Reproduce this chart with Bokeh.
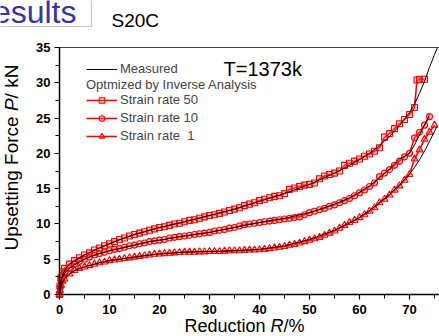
import math
from bokeh.plotting import figure
from bokeh.models import (Label, Legend, LegendItem, LinearAxis, SingleIntervalTicker,
                          Range1d, BoxAnnotation)
from bokeh.embed import file_html
from bokeh.resources import INLINE

# ---------------- data ----------------
x_sr50 = [0, 0.1, 0.3, 0.6, 1, 2, 3, 4, 5, 6, 7, 8, 9, 10, 11, 12, 13, 14, 15, 16, 17, 18,
          19, 20, 21, 22, 23, 24, 25, 26, 27, 28, 29, 30, 31, 32, 33, 34, 35, 36, 37, 38, 39,
          40, 41, 42, 43, 44, 45, 46, 47, 48, 49, 50, 51, 52, 53, 54, 55, 56, 57, 58, 59, 60,
          61, 62, 63, 64, 65, 66, 67, 68, 69, 70, 71, 71.5, 72, 73]
y_sr50 = [0, 1.2, 2.4, 3.2, 3.7, 4.3, 4.8, 5.2, 5.6, 5.9, 6.3, 6.6, 6.9, 7.2, 7.5, 7.8, 8.0,
          8.3, 8.5, 8.7, 8.9, 9.1, 9.3, 9.5, 9.6, 9.8, 10.0, 10.1, 10.3, 10.5, 10.6, 10.8, 11.0,
          11.2, 11.3, 11.5, 11.7, 11.9, 12.1, 12.3, 12.6, 12.8, 13.0, 13.3, 13.5, 13.7, 13.9,
          14.0, 14.3, 14.9, 15.1, 15.3, 15.5, 15.6, 15.8, 16.4, 16.8, 17.0, 17.2, 17.5, 18.3,
          18.6, 18.9, 19.2, 19.6, 19.9, 20.3, 20.8, 22.3, 22.8, 23.5, 24.2, 24.8, 25.5, 26.5,
          30.4, 30.5, 30.5]

x_sr10 = [0, 0.1, 0.3, 0.6, 1, 2, 3, 4, 5, 6, 7, 8, 9, 10, 11, 12, 13, 14, 15, 16, 17, 18,
          19, 20, 21, 22, 23, 24, 25, 26, 27, 28, 29, 30, 31, 32, 33, 34, 35, 36, 37, 38, 39,
          40, 41, 42, 43, 44, 45, 46, 47, 48, 49, 50, 51, 52, 53, 54, 55, 56, 57, 58, 59, 60,
          61, 62, 63, 64, 65, 66, 67, 68, 69, 70, 71, 72, 73, 74]
y_sr10 = [0, 1.0, 2.0, 2.8, 3.2, 3.8, 4.3, 4.7, 5.0, 5.3, 5.6, 5.8, 6.0, 6.2, 6.4, 6.5, 6.7,
          6.9, 7.0, 7.2, 7.3, 7.5, 7.6, 7.7, 7.8, 8.0, 8.1, 8.2, 8.3, 8.4, 8.5, 8.6, 8.7, 8.8,
          9.0, 9.1, 9.2, 9.4, 9.5, 9.7, 9.9, 10.0, 10.1, 10.2, 10.3, 10.4, 10.5, 10.6, 10.7,
          10.8, 10.9, 11.0, 11.3, 11.6, 11.8, 12.0, 12.2, 12.5, 12.7, 13.0, 13.3, 13.6, 14.0,
          14.4, 14.8, 15.3, 15.8, 16.7, 17.2, 17.7, 18.3, 18.9, 19.5, 20.0, 22.2, 23.0, 24.0,
          25.2]

x_sr1 = [0, 0.1, 0.3, 0.6, 1, 2, 3, 4, 5, 6, 7, 8, 9, 10, 11, 12, 13, 14, 15, 16, 17, 18,
         19, 20, 21, 22, 23, 24, 25, 26, 27, 28, 29, 30, 31, 32, 33, 34, 35, 36, 37, 38, 39,
         40, 41, 42, 43, 44, 45, 46, 47, 48, 49, 50, 51, 52, 53, 54, 55, 56, 57, 58, 59, 60,
         61, 62, 63, 64, 65, 66, 67, 68, 69, 70, 71, 72, 73, 74, 75]
y_sr1 = [0, 0.6, 1.3, 1.9, 2.2, 2.9, 3.4, 3.7, 3.9, 4.1, 4.3, 4.5, 4.6, 4.8, 4.9, 5.0, 5.1,
         5.2, 5.3, 5.4, 5.5, 5.6, 5.7, 5.75, 5.8, 5.85, 5.9, 5.95, 6.0, 6.0, 6.0, 6.05, 6.05,
         6.1, 6.1, 6.1, 6.15, 6.2, 6.2, 6.2, 6.25, 6.3, 6.3, 6.35, 6.4, 6.5, 6.6, 6.7, 6.8,
         7.0, 7.1, 7.3, 7.5, 7.7, 7.9, 8.1, 8.4, 8.7, 9.0, 9.4, 9.8, 10.2, 10.5, 10.9, 11.3,
         11.8, 12.3, 13.0, 13.5, 14.1, 14.8, 15.4, 16.2, 17.0, 19.2, 20.5, 22.0, 23.0, 24.0]

x_meas50 = [0, 0.2, 0.5, 1, 1.5, 2, 3, 4, 5, 6, 8, 10, 12, 15, 18, 20, 25, 30, 35, 40, 45,
            50, 55, 58, 60, 62, 64, 66, 68, 70, 71, 72, 73, 74, 75, 75.6]
y_meas50 = [0, 1.5, 2.6, 3.4, 3.9, 4.3, 4.8, 5.2, 5.6, 5.95, 6.6, 7.2, 7.75, 8.5, 9.1, 9.5,
            10.3, 11.2, 12.1, 13.2, 14.3, 15.6, 17.2, 18.3, 19.1, 20.0, 21.1, 22.4, 23.9,
            25.8, 27.0, 28.5, 30.2, 32.2, 34.0, 35.0]

x_meas10 = [0, 0.2, 0.5, 1, 1.5, 2, 3, 4, 5, 6, 8, 10, 12, 15, 18, 20, 25, 30, 35, 40, 45,
            50, 55, 58, 60, 62, 64, 66, 68, 70, 71, 72, 73, 74]
y_meas10 = [0, 1.3, 2.3, 3.0, 3.4, 3.7, 4.2, 4.6, 5.0, 5.3, 5.8, 6.2, 6.5, 7.0, 7.5, 7.7,
            8.3, 8.8, 9.5, 10.2, 10.8, 11.6, 12.8, 13.7, 14.5, 15.4, 16.5, 17.8, 19.2, 20.0,
            21.2, 22.6, 24.0, 25.5]

x_meas1 = [0, 0.2, 0.5, 1, 1.5, 2, 3, 4, 5, 6, 8, 10, 12, 15, 18, 20, 25, 30, 35, 40, 45,
           50, 55, 58, 60, 62, 64, 66, 68, 70, 71, 72, 73, 74, 75, 75.5]
y_meas1 = [0, 0.8, 1.6, 2.2, 2.6, 2.9, 3.4, 3.7, 3.9, 4.1, 4.5, 4.8, 5.0, 5.3, 5.6, 5.75,
           6.0, 6.1, 6.2, 6.4, 6.9, 7.8, 9.1, 10.1, 10.9, 11.9, 13.0, 14.2, 15.5, 17.1, 18.0,
           19.1, 20.3, 21.7, 23.1, 23.9]

series_labels = ["Strain rate 50", "Strain rate 10", "Strain rate  1"]

# ---------------- figure ----------------
FONT = "Liberation Sans"
RED = "#ff0000"
W, H = 439, 336
OFF = 6.5   # baseline correction for Bokeh's text placement

# frame covers the whole canvas; axes are pinned at x=0 / y=0 with fixed_location
p = figure(width=W, height=H, x_range=Range1d(-11.8, 76), y_range=Range1d(-5.95, 41.66),
           output_backend="svg", toolbar_location=None, title_location=None,
           min_border=0)
p.outline_line_color = None
p.xgrid.visible = False
p.ygrid.visible = False

p.xaxis.ticker = SingleIntervalTicker(interval=10, num_minor_ticks=2)
p.yaxis.ticker = SingleIntervalTicker(interval=5, num_minor_ticks=2)
p.xaxis.fixed_location = 0
p.yaxis.fixed_location = 0
p.xaxis.bounds = (0, 76)
p.yaxis.bounds = (0, 35)
for ax in (p.xaxis, p.yaxis):
    ax.axis_line_color = "black"
    ax.axis_line_width = 1.5
    ax.major_tick_line_color = "black"
    ax.minor_tick_line_color = "black"
    ax.major_tick_line_width = 1.2
    ax.minor_tick_line_width = 1
    ax.major_tick_in = 0
    ax.major_tick_out = 5
    ax.minor_tick_in = 0
    ax.minor_tick_out = 4
    ax.major_label_text_font = FONT
    ax.major_label_text_font_style = "bold"
    ax.major_label_text_font_size = "13px"
    ax.major_label_text_color = "black"
p.xaxis.major_label_standoff = 5
p.yaxis.major_label_standoff = 4

top_axis = LinearAxis(fixed_location=35, bounds=(0, 76),
                      axis_line_color="#444444", axis_line_width=1,
                      major_tick_line_color=None, minor_tick_line_color=None,
                      major_label_text_color=None)
p.add_layout(top_axis, "above")

# red optimized series
r = []
for xs, ys, mk, sz in ((x_sr50, y_sr50, "square", 6), (x_sr10, y_sr10, "circle", 6),
                       (x_sr1, y_sr1, "triangle", 7)):
    ln = p.line(xs, ys, line_color=RED, line_width=1.6)
    sc = p.scatter(xs, ys, marker=mk, size=sz, line_color=RED, line_width=1.1,
                   fill_color="#ff7070", fill_alpha=0.35)
    r.append((ln, sc))

# measured
m_lines = []
for xs, ys in ((x_meas50, y_meas50), (x_meas10, y_meas10), (x_meas1, y_meas1)):
    m_lines.append(p.line(xs, ys, line_color="black", line_width=1))

# legends (location in screen px from bottom-left of the canvas)
common = dict(glyph_width=31, glyph_height=14, label_height=14, spacing=3, padding=0,
              margin=0, label_standoff=3, label_text_font=FONT, label_text_font_size="13px",
              border_line_color=None, background_fill_alpha=0)
leg1 = Legend(items=[LegendItem(label="Measured", renderers=[m_lines[0]])],
              location=(86, H - 76), **common)
leg2 = Legend(items=[LegendItem(label=lab, renderers=[ln, sc])
                     for lab, (ln, sc) in zip(series_labels, r)],
              location=(86, H - 143), title="Optmized by Inverse Analysis",
              title_text_font=FONT, title_text_font_size="13px",
              title_text_font_style="normal", title_standoff=0, **common)
p.add_layout(leg1)
p.add_layout(leg2)


def lab(text, px, py, size, style="normal", color="black", align="left", angle=0.0):
    """Label at page pixel (px, py) = (anchor, baseline) measured from the top-left."""
    if angle:
        px = px - OFF
    else:
        py = py - OFF
    lb = Label(x=px, y=H - py, x_units="screen", y_units="screen", text=text,
               text_font=FONT, text_font_size=size, text_font_style=style,
               text_color=color, text_align=align, text_baseline="alphabetic",
               angle=angle)
    p.add_layout(lb)
    return lb


# header: boxed "Results" heading cropped at the left/top, and specimen name
p.add_layout(BoxAnnotation(left=-5, right=91, top=H + 5, bottom=H - 26,
                           left_units="screen", right_units="screen",
                           top_units="screen", bottom_units="screen",
                           fill_alpha=0, line_color="#3b3b8f", line_width=1.2))
lab("esults", 76, 17.5, "32px", color="#3535a5", align="right")
lab("S20C", 111, 26, "19px")
lab("T=1373k", 223, 75, "20px")

# x axis title
lab("Reduction", 184, 332, "18px")
lab("R", 270, 332, "18px", style="italic")
lab("/%", 283, 332, "18px")

# y axis title (rotated, reads bottom to top)
a = math.pi / 2
lab("Upsetting Force", 17.6, 250, "19px", angle=a)
lab("P", 17.6, 250 - 139.4, "19px", style="italic", angle=a)
lab("/ kN", 17.6, 250 - 152.1, "19px", angle=a)

open("out.html", "w").write(file_html(p, INLINE))
